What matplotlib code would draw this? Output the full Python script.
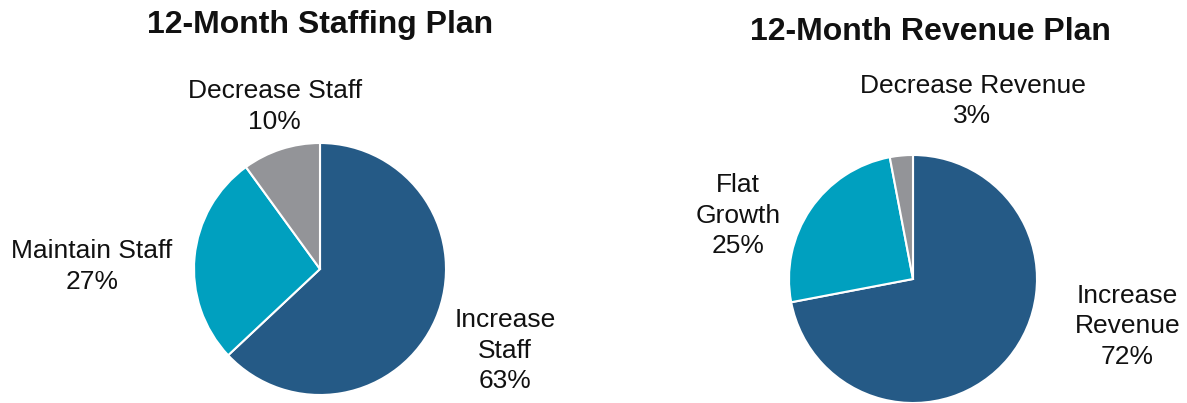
import matplotlib
matplotlib.use('Agg')
import matplotlib.pyplot as plt

plt.rcParams['font.family'] = ['Liberation Sans', 'DejaVu Sans']

W, H = 1187, 403

# staffing plan
staff_labels = ['Increase\nStaff', 'Maintain Staff', 'Decrease Staff']
staff_vals = [63, 27, 10]
# revenue plan
rev_labels = ['Increase\nRevenue', 'Flat\nGrowth', 'Decrease Revenue']
rev_vals = [72, 25, 3]

colors = ['#255A86', '#00A0BF', '#939498']

fig = plt.figure(figsize=(W / 100, H / 100), dpi=100)


def pie_axes(cx, cy, r):
    # pixel centre / radius -> axes in figure fraction (y from top)
    return fig.add_axes([(cx - r) / W, (H - cy - r) / H, 2 * r / W, 2 * r / H])


def draw(ax, vals, labels, pos, title, title_xy):
    ax.pie(vals, colors=colors, startangle=90, counterclock=False, radius=1,
           wedgeprops=dict(edgecolor='white', linewidth=1.5))
    ax.set_xlim(-1, 1)
    ax.set_ylim(-1, 1)
    ax.set_aspect('equal')
    ax.axis('off')
    for lab, v, (x, y) in zip(labels, vals, pos):
        ax.text(x, y, f'{lab}\n{v}%', ha='center', va='center', fontsize=19,
                linespacing=1.34, color='#111111', clip_on=False)
    fig.text(title_xy[0] / W, 1 - title_xy[1] / H, title, ha='center', va='center',
             fontsize=23, fontweight='bold', color='#111111')


ax1 = pie_axes(320, 269, 126)
draw(ax1, staff_vals, staff_labels,
     [(1.47, -0.65), (-1.81, 0.02), (-0.36, 1.29)],
     '12-Month Staffing Plan', (320, 25))

ax2 = pie_axes(913, 279, 124)
draw(ax2, rev_vals, rev_labels,
     [(1.73, -0.38), (-1.41, 0.51), (0.48, 1.435)],
     '12-Month Revenue Plan', (930, 32))

fig.savefig('out.png', dpi=100, facecolor='white')
